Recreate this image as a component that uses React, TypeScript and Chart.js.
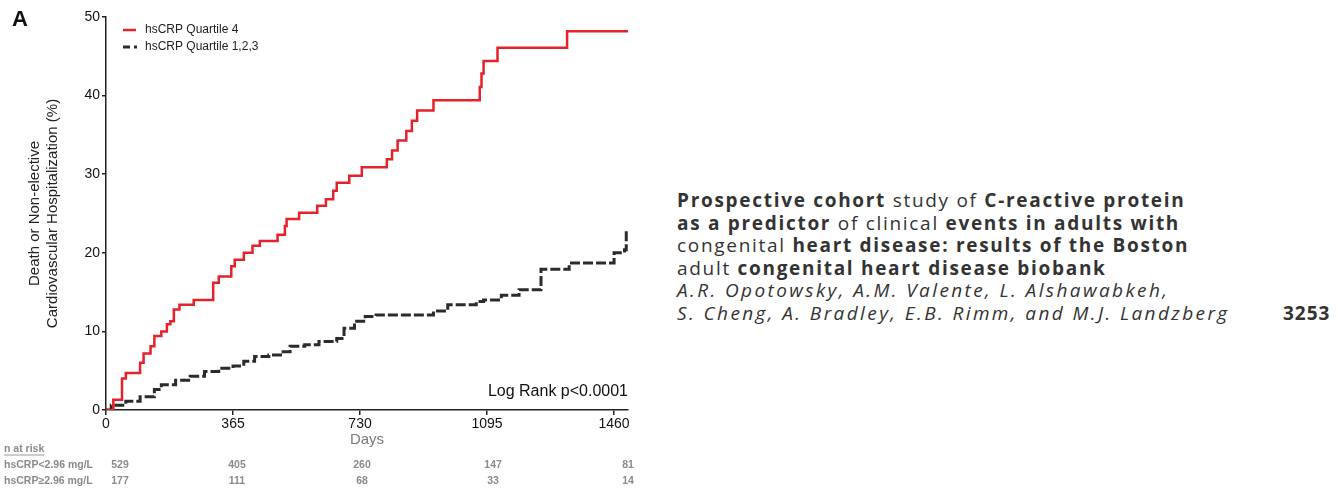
import React, { useEffect, useRef } from "react";
import { Chart, registerables } from "chart.js";

Chart.register(...registerables);

// ---- data ----
const xTickValues = [0, 365, 730, 1095, 1460];
const yTickValues = [0, 10, 20, 30, 40, 50];
const seriesLabels = ["hsCRP Quartile 4", "hsCRP Quartile 1,2,3"];

const q4Days = [0, 21, 46, 57, 98, 108, 128, 139, 159, 175, 185, 195, 211, 252, 308, 324, 360, 370, 396, 421, 442, 493, 514, 519, 555, 607, 632, 653, 663, 699, 735, 807, 822, 838, 863, 879, 894, 941, 1074, 1079, 1085, 1125, 1325, 1505];
const q4Values = [0, 1.3, 4.0, 4.7, 6.0, 7.2, 8.1, 9.4, 10.0, 10.9, 11.3, 12.8, 13.4, 14.0, 16.2, 17.0, 18.3, 19.1, 20.0, 20.9, 21.5, 22.3, 23.4, 24.3, 25.1, 26.0, 26.8, 27.9, 28.9, 29.8, 30.9, 31.9, 33.0, 34.3, 35.5, 36.8, 38.1, 39.4, 41.1, 42.8, 44.4, 46.1, 48.2, 48.2];

const q123Days = [0, 15, 57, 98, 139, 159, 200, 242, 283, 324, 365, 396, 427, 468, 509, 529, 571, 612, 663, 684, 714, 745, 776, 941, 982, 1064, 1085, 1136, 1187, 1250, 1331, 1460, 1490, 1495];
const q123Values = [0, 0.6, 1.1, 1.7, 2.6, 3.2, 3.8, 4.3, 4.9, 5.3, 5.6, 6.2, 6.8, 7.0, 7.4, 8.1, 8.3, 8.7, 9.1, 10.4, 11.3, 11.9, 12.1, 12.6, 13.4, 13.8, 14.0, 14.6, 15.3, 17.9, 18.7, 20.0, 20.4, 23.0];

const atRiskTitle = "n at risk";
const atRiskLabels = ["hsCRP<2.96 mg/L", "hsCRP\u22652.96 mg/L"];
const atRiskLow = [529, 405, 260, 147, 81];
const atRiskHigh = [177, 111, 68, 33, 14];
const logRankText = "Log Rank p<0.0001";

const FONT = "'Liberation Sans', Arial, sans-serif";

const overlayPlugin = {
  id: "overlay",
  afterDraw(chart: any) {
    const { ctx, chartArea, scales } = chart;
    ctx.save();
    // legend
    const lx = chartArea.left + 17;
    const ly1 = chartArea.top + 13;
    const ly2 = chartArea.top + 30;
    ctx.lineWidth = 2.5;
    ctx.strokeStyle = "#e3222b";
    ctx.beginPath();
    ctx.moveTo(lx, ly1);
    ctx.lineTo(lx + 13, ly1);
    ctx.stroke();
    ctx.strokeStyle = "#2b2b2b";
    ctx.lineWidth = 3;
    ctx.setLineDash([7, 4]);
    ctx.beginPath();
    ctx.moveTo(lx, ly2);
    ctx.lineTo(lx + 14, ly2);
    ctx.stroke();
    ctx.setLineDash([]);
    ctx.fillStyle = "#222";
    ctx.font = `12px ${FONT}`;
    ctx.textBaseline = "middle";
    ctx.textAlign = "left";
    ctx.fillText(seriesLabels[0], lx + 22, ly1);
    ctx.fillText(seriesLabels[1], lx + 22, ly2);

    // log rank
    ctx.font = `16px ${FONT}`;
    ctx.fillStyle = "#111";
    ctx.textAlign = "right";
    ctx.fillText(logRankText, chartArea.right, chartArea.bottom - 18);

    // number at risk
    ctx.fillStyle = "#8a8a8a";
    ctx.font = `bold 10.5px ${FONT}`;
    ctx.textAlign = "left";
    ctx.fillText(atRiskTitle, 4, 449);
    const w = ctx.measureText(atRiskTitle).width;
    ctx.strokeStyle = "#9a9a9a";
    ctx.lineWidth = 1;
    ctx.beginPath();
    ctx.moveTo(4, 455);
    ctx.lineTo(4 + w, 455);
    ctx.stroke();
    ctx.fillText(atRiskLabels[0], 4, 465);
    ctx.fillText(atRiskLabels[1], 4, 481);
    ctx.textAlign = "center";
    const shift = [14, 4, 2, 6, 14];
    xTickValues.forEach((v, i) => {
      const px = scales.x.getPixelForValue(v) + shift[i];
      ctx.fillText(String(atRiskLow[i]), px, 465);
      ctx.fillText(String(atRiskHigh[i]), px, 481);
    });
    ctx.restore();
  },
};

function KMChart() {
  const ref = useRef<HTMLCanvasElement | null>(null);
  useEffect(() => {
    if (!ref.current) return;
    const chart = new Chart(ref.current, {
      type: "line",
      data: {
        datasets: [
          {
            label: seriesLabels[0],
            data: q4Days.map((d, i) => ({ x: d, y: q4Values[i] })),
            borderColor: "#e3222b",
            borderWidth: 2.5,
            pointRadius: 0,
            stepped: true,
            fill: false,
          },
          {
            label: seriesLabels[1],
            data: q123Days.map((d, i) => ({ x: d, y: q123Values[i] })),
            borderColor: "#2b2b2b",
            borderWidth: 3,
            borderDash: [10, 3],
            pointRadius: 0,
            stepped: true,
            fill: false,
          },
        ],
      },
      options: {
        animation: false,
        responsive: false,
        layout: { padding: { left: 0, top: 17, right: 32, bottom: 43 } },
        plugins: { legend: { display: false }, tooltip: { enabled: false } },
        scales: {
          x: {
            type: "linear",
            min: 0,
            max: 1500,
            afterBuildTicks: (s: any) => {
              s.ticks = xTickValues.map((v) => ({ value: v }));
            },
            afterFit: (s: any) => {
              s.height = 40;
            },
            grid: { drawOnChartArea: false, tickLength: 5, color: "#222", lineWidth: 1.5 },
            border: { color: "#222", width: 1.5 },
            ticks: {
              font: { family: FONT, size: 14 },
              color: "#111",
              padding: 1,
              maxRotation: 0,
              autoSkip: false,
              callback: (v: any) => String(v),
            },
            title: {
              display: true,
              text: "Days",
              color: "#7a7a7a",
              font: { family: FONT, size: 15, lineHeight: 1.2 },
              padding: { top: 0, bottom: 1 },
            },
          },
          y: {
            type: "linear",
            min: 0,
            max: 50,
            afterBuildTicks: (s: any) => {
              s.ticks = yTickValues.map((v) => ({ value: v }));
            },
            afterFit: (s: any) => {
              s.width = 106;
            },
            grid: { drawOnChartArea: false, tickLength: 4, color: "#222", lineWidth: 1.5 },
            border: { color: "#222", width: 1.5 },
            ticks: { font: { family: FONT, size: 14 }, color: "#111", padding: 2, callback: (v: any) => String(v) },
            title: {
              display: true,
              text: ["Death or Non-elective", "Cardiovascular Hospitalization (%)"],
              color: "#222",
              font: { family: FONT, size: 15, lineHeight: 1.2 },
              padding: { top: 26, bottom: 0 },
            },
          },
        },
      },
      plugins: [overlayPlugin],
    } as any);
    return () => chart.destroy();
  }, []);
  return <canvas ref={ref} width={660} height={493} style={{ position: "absolute", left: 0, top: 0, width: 660, height: 493 }} />;
}

const B = ({ children }: { children: React.ReactNode }) => <span style={{ fontWeight: 700 }}>{children}</span>;

const lineStyle: React.CSSProperties = { letterSpacing: "1.7px" };
const italicStyle: React.CSSProperties = { fontStyle: "italic", letterSpacing: "2.4px" };

export default function App() {
  return (
    <div style={{ position: "fixed", left: 0, top: 0, width: 1338, height: 493, background: "#fff", overflow: "hidden" }}>
      <KMChart />
      <div style={{ position: "absolute", left: 12, top: 6, fontFamily: FONT, fontWeight: 700, fontSize: 22, color: "#111" }}>A</div>
      <div
        style={{
          position: "absolute",
          left: 677,
          top: 189,
          fontFamily: "'Open Sans', sans-serif",
          fontSize: 19,
          lineHeight: "22.6px",
          color: "#333",
          whiteSpace: "nowrap",
        }}
      >
        <div style={lineStyle}><B>Prospective cohort</B> study of <B>C-reactive protein</B></div>
        <div style={lineStyle}><B>as a predictor</B> of clinical <B>events in adults with</B></div>
        <div style={lineStyle}>congenital <B>heart disease: results of the Boston</B></div>
        <div style={lineStyle}>adult <B>congenital heart disease biobank</B></div>
        <div style={italicStyle}>A.R. Opotowsky, A.M. Valente, L. Alshawabkeh,</div>
        <div style={italicStyle}>S. Cheng, A. Bradley, E.B. Rimm, and M.J. Landzberg</div>
      </div>
      <div style={{ position: "absolute", left: 1283, top: 302, fontFamily: "'Open Sans', sans-serif", fontSize: 19, lineHeight: "22.6px", fontWeight: 700, color: "#333", letterSpacing: "1px" }}>3253</div>
    </div>
  );
}
